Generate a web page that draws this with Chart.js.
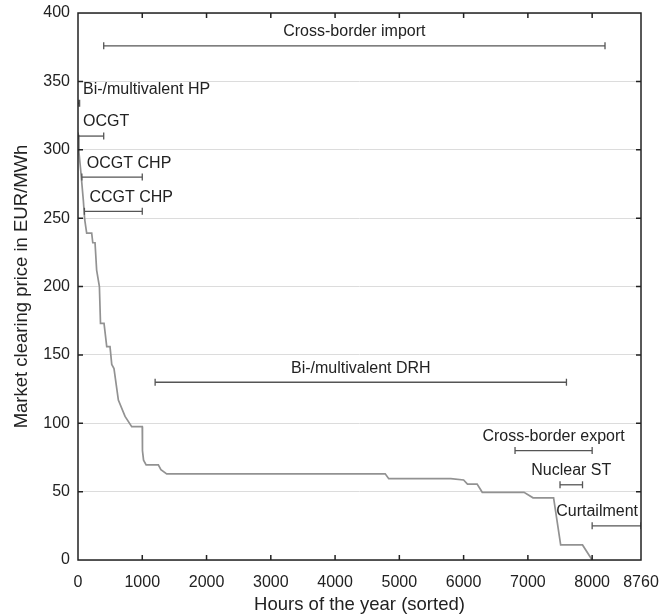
<!DOCTYPE html>
<html>
<head>
<meta charset="utf-8">
<script src="https://cdn.jsdelivr.net/npm/chart.js@4/dist/chart.umd.min.js"></script>
<style>
  html, body { margin: 0; padding: 0; background: #fff; }
  canvas { display: block; }
</style>
</head>
<body>
<canvas id="priceChart" width="659" height="615"></canvas>
<script>
// Price duration curve (hours sorted by clearing price)
const hours = [0, 15, 42, 83, 104, 135, 213, 230, 265, 290, 333, 350, 405, 447, 498, 525, 560, 628, 732, 836, 1000, 1003, 1020, 1060, 1250, 1290, 1380, 4780, 4835, 5800, 6000, 6060, 6210, 6290, 6940, 7080, 7400, 7510, 7850, 8000];
const prices = [311, 298, 285, 263, 249, 239, 239, 232, 232, 212, 200, 173, 173, 156, 156, 143, 140, 117, 105, 97.5, 97.5, 80, 73, 69.5, 69.5, 66, 63, 63, 59.5, 59.5, 58.5, 55.5, 55.5, 49.5, 49.5, 45.5, 45.5, 11, 11, 0];

// Hour ranges per technology
const rangeNames = ['Cross-border import', 'Bi-/multivalent HP', 'OCGT', 'OCGT CHP', 'CCGT CHP', 'Bi-/multivalent DRH', 'Cross-border export', 'Nuclear ST', 'Curtailment'];
const rangeStart = [400, 0, 0, 60, 100, 1200, 6800, 7500, 8000];
const rangeEnd = [8200, 25, 400, 1000, 1000, 7600, 8000, 7850, 8760];
const rangePrice = [376, 334, 310, 280, 255, 130, 80, 55, 25];

const xTicks = [0, 1000, 2000, 3000, 4000, 5000, 6000, 7000, 8000, 8760];
const yTicks = [0, 50, 100, 150, 200, 250, 300, 350, 400];

// where each range label sits relative to its bar
const labelAlign = ['center', 'left', 'left', 'left', 'left', 'center', 'center', 'center', 'right'];

Chart.defaults.font.family = "'Liberation Sans', Arial, sans-serif";
Chart.defaults.color = '#222';

const datasets = [{
    data: hours.map((h, i) => ({ x: h, y: prices[i] })),
    borderColor: '#929292',
    borderWidth: 1.7,
    pointRadius: 0,
    showLine: true,
    tension: 0,
    order: 2
}];

rangeNames.forEach((name, i) => {
    datasets.push({
        label: name,
        data: [{ x: rangeStart[i], y: rangePrice[i] }, { x: rangeEnd[i], y: rangePrice[i] }],
        borderColor: '#555',
        borderWidth: 1.3,
        showLine: true,
        pointStyle: 'line',
        rotation: 90,
        pointRadius: 3.5,
        pointBorderColor: '#555',
        pointBorderWidth: 1.3,
        order: 1
    });
});

// range labels above each bar
const rangeLabels = {
    id: 'rangeLabels',
    afterDatasetsDraw(chart) {
        const { ctx, scales: { x, y } } = chart;
        ctx.save();
        ctx.font = "16px 'Liberation Sans', Arial, sans-serif";
        ctx.fillStyle = '#222';
        ctx.textBaseline = 'middle';
        rangeNames.forEach((name, i) => {
            const x1 = x.getPixelForValue(rangeStart[i]);
            const x2 = x.getPixelForValue(rangeEnd[i]);
            const py = y.getPixelForValue(rangePrice[i]) - 14;
            let px = (x1 + x2) / 2;
            if (labelAlign[i] === 'left') px = x1 + 5;
            if (labelAlign[i] === 'right') px = x2 - 3;
            ctx.textAlign = labelAlign[i];
            ctx.fillText(name, px, py);
        });
        ctx.restore();
    }
};

// box frame with inward tick marks on all four sides
const frame = {
    id: 'frame',
    afterDraw(chart) {
        const { ctx, chartArea: a, scales: { x, y } } = chart;
        const len = 5;
        ctx.save();
        ctx.strokeStyle = '#222';
        ctx.lineWidth = 1.5;
        ctx.strokeRect(a.left, a.top, a.right - a.left, a.bottom - a.top);
        ctx.beginPath();
        xTicks.slice(1, -1).forEach(v => {
            const px = x.getPixelForValue(v);
            ctx.moveTo(px, a.bottom); ctx.lineTo(px, a.bottom - len);
            ctx.moveTo(px, a.top); ctx.lineTo(px, a.top + len);
        });
        yTicks.slice(1, -1).forEach(v => {
            const py = y.getPixelForValue(v);
            ctx.moveTo(a.left, py); ctx.lineTo(a.left + len, py);
            ctx.moveTo(a.right, py); ctx.lineTo(a.right - len, py);
        });
        ctx.stroke();
        ctx.restore();
    }
};

new Chart(document.getElementById('priceChart').getContext('2d'), {
    type: 'scatter',
    data: { datasets },
    options: {
        responsive: false,
        animation: false,
        layout: { padding: { top: 13, right: 18, left: 0, bottom: 0 } },
        plugins: {
            legend: { display: false },
            tooltip: { enabled: false }
        },
        scales: {
            x: {
                type: 'linear',
                min: 0,
                max: 8760,
                grid: { display: false },
                border: { display: false },
                afterBuildTicks: s => { s.ticks = xTicks.map(v => ({ value: v })); },
                ticks: { font: { size: 16 }, padding: 5, maxRotation: 0, autoSkip: false, callback: v => String(v) },
                title: {
                    display: true,
                    text: 'Hours of the year (sorted)',
                    font: { size: 18.5, lineHeight: 1 },
                    padding: { top: 0, bottom: 1 }
                },
                afterFit: s => {
                    s.height = 55;
                    s.paddingLeft = 0;
                    s.paddingRight = 0;
                }
            },
            y: {
                min: 0,
                max: 400,
                afterBuildTicks: s => { s.ticks = yTicks.map(v => ({ value: v })); },
                grid: { color: '#dcdcdc', lineWidth: 1, drawTicks: false },
                border: { display: false },
                ticks: { font: { size: 16 }, padding: 8, callback: v => String(v) },
                title: {
                    display: true,
                    text: 'Market clearing price in EUR/MWh',
                    font: { size: 18.5, lineHeight: 1 },
                    padding: { top: 13, bottom: 0 }
                },
                afterFit: s => {
                    s.width = 78;
                    s.paddingTop = 0;
                    s.paddingBottom = 0;
                }
            }
        }
    },
    plugins: [rangeLabels, frame]
});
</script>
</body>
</html>
